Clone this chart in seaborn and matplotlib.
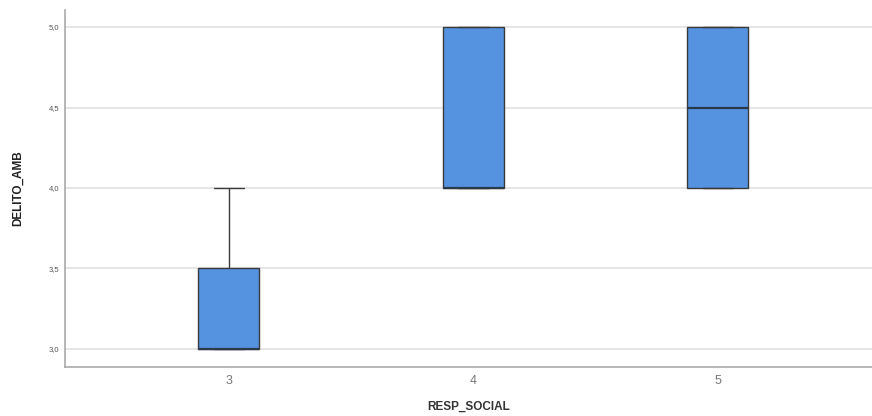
import matplotlib
matplotlib.use("Agg")
import matplotlib.pyplot as plt
import seaborn as sns
import pandas as pd

# Data (raw observations per RESP_SOCIAL group, read from the box stats)
resp_social_3 = [3, 3, 4]
resp_social_4 = [4, 4, 4, 5, 5]
resp_social_5 = [4, 4, 5, 5]
categories = ["3", "4", "5"]
ytick_values = [3.0, 3.5, 4.0, 4.5, 5.0]
ytick_labels = ["3,0", "3,5", "4,0", "4,5", "5,0"]

rows = []
for cat, vals in zip(categories, [resp_social_3, resp_social_4, resp_social_5]):
    for v in vals:
        rows.append({"RESP_SOCIAL": cat, "DELITO_AMB": v})
df = pd.DataFrame(rows)

sns.set_theme(style="white")
plt.rcParams['font.family'] = ['Liberation Sans', 'DejaVu Sans']

fig = plt.figure(figsize=(8.72, 4.16), dpi=100)
ax = fig.add_axes([0.0745, 0.118, 0.9255, 0.858])

for y in ytick_values:
    ax.axhline(y, color="#e3e3e3", lw=1.3, zorder=0)

sns.boxplot(data=df, x="RESP_SOCIAL", y="DELITO_AMB", order=categories,
            color="#5592e0", saturation=1, width=0.25, linecolor="#3a3a3a",
            linewidth=1.0, whis=1.5, fliersize=0, ax=ax,
            medianprops=dict(color="#2a3a4a", lw=1.6),
            boxprops=dict(edgecolor="#3a3a3a", zorder=2))

ax.set_xlim(-0.67, 2.63)
ax.set_ylim(2.888, 5.106)
ax.set_yticks(ytick_values)
ax.set_yticklabels(ytick_labels, fontsize=5.5, color="#555555")
ax.tick_params(axis="x", labelsize=9, colors="#777777", length=0, pad=6)
ax.tick_params(axis="y", length=0, pad=4)
for lab in ax.get_xticklabels():
    lab.set_color("#777777")

ax.set_xlabel("RESP_SOCIAL", fontsize=8.5, fontweight="bold", color="#333333", labelpad=10)
ax.set_ylabel("DELITO_AMB", fontsize=8.5, fontweight="bold", color="#222222", labelpad=18)

for s in ["top", "right"]:
    ax.spines[s].set_visible(False)
for s in ["left", "bottom"]:
    ax.spines[s].set_color("#aaaaaa")
    ax.spines[s].set_linewidth(1.2)

fig.savefig("out.png", dpi=100)
